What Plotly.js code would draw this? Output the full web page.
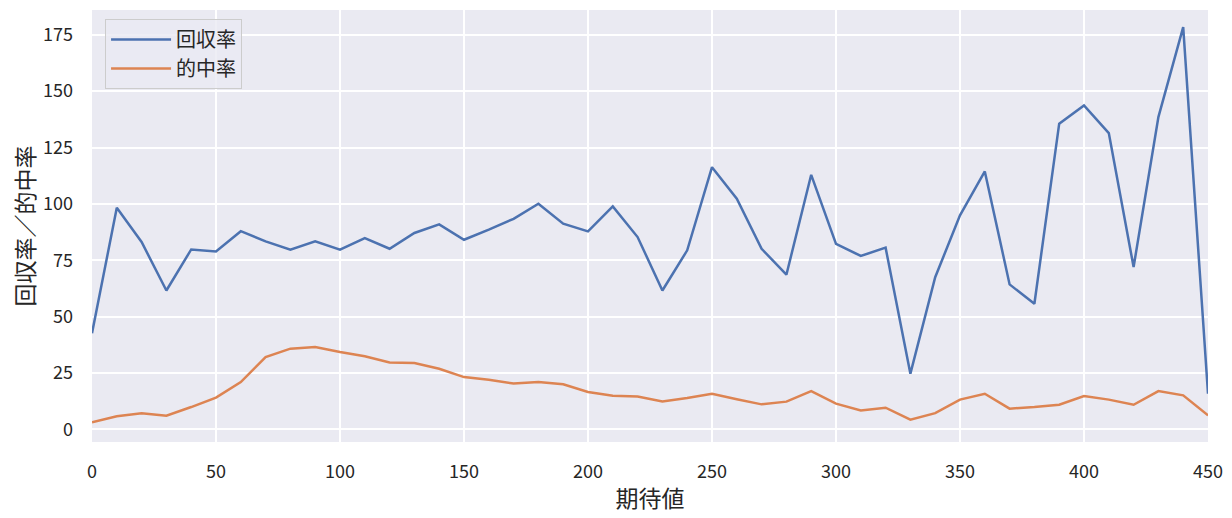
<!DOCTYPE html>
<html>
<head>
<meta charset="utf-8">
<script src="https://cdn.plot.ly/plotly-3.0.1.min.js"></script>
<style>html,body{margin:0;padding:0;background:#fff;}#chart{width:1232px;height:518px;}</style>
</head>
<body>
<div id="chart"></div>
<script>
const expectedValue = [0,10,20,30,40,50,60,70,80,90,100,110,120,130,140,150,160,170,180,190,200,210,220,230,240,250,260,270,280,290,300,310,320,330,340,350,360,370,380,390,400,410,420,430,440,450];
const recoveryRate = [42.6,98.3,83.1,61.6,79.8,78.9,87.9,83.4,79.7,83.4,79.7,84.8,80.1,87.1,90.9,84.1,88.6,93.4,100.1,91.2,87.8,98.9,85.3,61.6,79.4,116.3,102.3,80.1,68.6,112.9,82.3,76.9,80.6,24.7,67.5,94.9,114.4,64.3,55.7,135.6,143.7,131.4,72.0,138.5,178.4,15.8];
const hitRate = [3.2,5.8,7.2,6.1,9.9,14.1,21.0,32.1,35.8,36.5,34.3,32.4,29.7,29.4,26.9,23.2,22.0,20.3,21.0,20.0,16.6,14.9,14.6,12.4,13.9,15.8,13.4,11.1,12.3,17.0,11.4,8.4,9.6,4.3,7.2,13.2,15.8,9.2,9.9,10.9,14.8,13.2,10.9,17.0,15.1,6.2];
const seriesNames = ['回収率','的中率'];
const xTicks = [0,50,100,150,200,250,300,350,400,450];
const yTicks = [0,25,50,75,100,125,150,175];

const FONT = '"Noto Sans CJK JP", "Noto Sans", sans-serif';
const traces = [
  {x: expectedValue, y: recoveryRate, name: seriesNames[0], type: 'scatter', mode: 'lines',
   line: {color: '#4c72b0', width: 2.5}},
  {x: expectedValue, y: hitRate, name: seriesNames[1], type: 'scatter', mode: 'lines',
   line: {color: '#dd8452', width: 2.5}}
];
const layout = {
  width: 1232, height: 518,
  margin: {l: 92, r: 24, t: 10, b: 76},
  paper_bgcolor: '#ffffff',
  plot_bgcolor: '#eaeaf2',
  font: {family: FONT, color: '#262626', size: 17},
  showlegend: true,
  legend: {x: 0.0117, y: 0.979, xanchor: 'left', yanchor: 'top',
    itemwidth: 60,
    bgcolor: 'rgba(234,234,242,0.8)', bordercolor: '#cccccc', borderwidth: 1,
    font: {family: FONT, size: 20, color: '#262626'}},
  xaxis: {range: [0, 450], tickvals: xTicks, ticktext: xTicks.map(String),
    showgrid: true, gridcolor: '#ffffff', gridwidth: 2, zeroline: false,
    showline: false, ticks: '', ticklabelstandoff: 17,
    tickfont: {family: FONT, size: 18, color: '#262626'},
    title: {text: '期待値', font: {family: FONT, size: 23, color: '#262626'}, standoff: 8}},
  yaxis: {range: [-5.6, 186], tickvals: yTicks, ticktext: yTicks.map(String),
    showgrid: true, gridcolor: '#ffffff', gridwidth: 2, zeroline: false,
    showline: false, ticks: '', ticklabelstandoff: 18,
    tickfont: {family: FONT, size: 18, color: '#262626'},
    title: {text: '回収率／的中率', font: {family: FONT, size: 23, color: '#262626'}, standoff: 1}}
};
Plotly.newPlot('chart', traces, layout, {displayModeBar: false, staticPlot: true});
</script>
</body>
</html>
